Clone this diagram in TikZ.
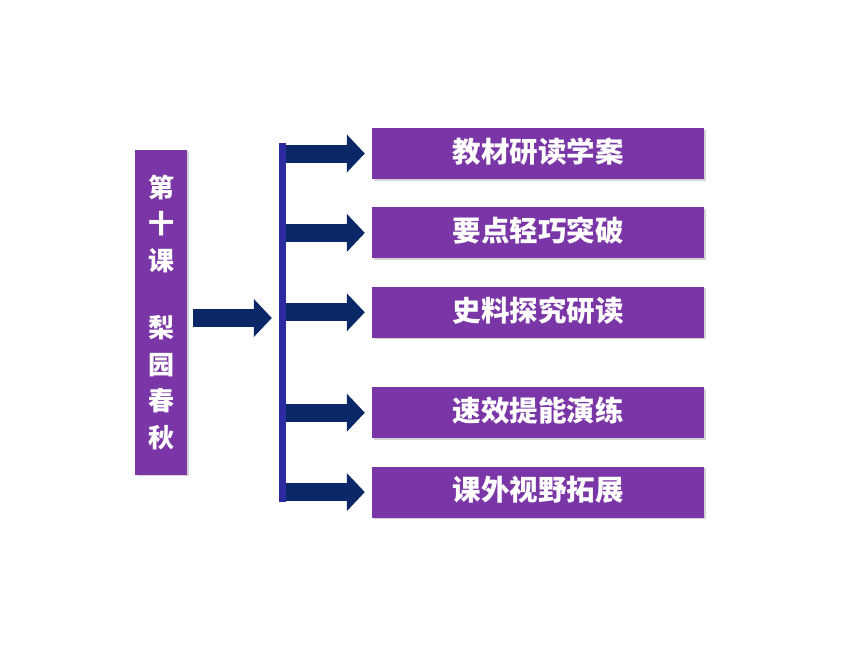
\documentclass[tikz,border=0pt]{standalone}
\usepackage{fontspec}
\newfontfamily\cjk{Noto Sans CJK SC}
\usepackage{tikz}
\usetikzlibrary{arrows.meta,positioning,shadows}

\definecolor{boxpurple}{RGB}{122,54,166}
\definecolor{arrownavy}{RGB}{10,40,104}
\definecolor{barblue}{RGB}{44,44,160}

\tikzset{
  topic/.style={fill=boxpurple, minimum width=332pt, minimum height=51pt, inner sep=0pt,
    text=white, font=\cjk\bfseries\fontsize{28.5}{32}\selectfont,
    drop shadow={opacity=0.35, shadow xshift=1.5pt, shadow yshift=-1.5pt}},
  topictext/.style={inner sep=0pt, text=white, font=\cjk\bfseries\fontsize{28.5}{32}\selectfont},
  blockarrow/.style={draw=arrownavy, line width=18pt, -{Triangle[length=18pt,width=37pt]}},
}

\begin{document}
\begin{tikzpicture}[x=1pt,y=-1pt]
            \useasboundingbox (0,0) rectangle (860,645);
            
            % Nodes
            
            \node[fill=boxpurple, minimum width=52pt, minimum height=325pt, inner sep=0pt,
                  drop shadow={opacity=0.35, shadow xshift=1.5pt, shadow yshift=-1.5pt},
                  text=white, align=center, font=\cjk\bfseries\fontsize{26}{36.5}\selectfont] (lesson) at (161,312)
                  {第\\十\\课\\[31pt]梨\\园\\春\\秋};
            \node[fill=barblue, minimum width=7pt, minimum height=359pt, inner sep=0pt] (bar) at (282.5,322.5) {};
            \node[topic] (b1) at (538,153.5) {};
            \node[topic, below=28pt of b1] (b2) {};
            \node[topic, below=28pt of b2] (b3) {};
            \node[topic, below=49pt of b3] (b4) {};
            \node[topic, below=28pt of b4] (b5) {};
            
            % Box Labels
            
            \node[topictext] (t1) at ([yshift=2pt]b1.center) {教材研读学案};
            \node[topictext] (t2) at ([yshift=2pt]b2.center) {要点轻巧突破};
            \node[topictext] (t3) at ([yshift=2pt]b3.center) {史料探究研读};
            \node[topictext] (t4) at ([yshift=2pt]b4.center) {速效提能演练};
            \node[topictext] (t5) at ([yshift=2pt]b5.center) {课外视野拓展};
            
            % Edges
            
            \draw[blockarrow, shorten <=6pt, shorten >=7pt] (lesson.east |- 0,318) -- (bar.west |- 0,318);
            \foreach \b in {b1,b2,b3,b4,b5}
              \draw[blockarrow, shorten >=7pt] (bar.east |- \b.west) -- (\b.west);
            
\end{tikzpicture}
\end{document}
